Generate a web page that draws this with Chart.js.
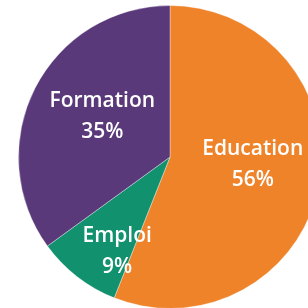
<!DOCTYPE html>
<html>
<head>
<meta charset="utf-8">
<script src="https://cdn.jsdelivr.net/npm/chart.js@4"></script>
<style>
  html, body { margin:0; padding:0; background:#fff; overflow:hidden; width:308px; height:308px; }
  #wrap { position:absolute; left:0; top:0; }
</style>
</head>
<body>
<div id="wrap"><canvas id="pieChart" width="322" height="309"></canvas></div>
<script>
// data
const categories = ['Education', 'Emploi', 'Formation'];
const shares = [56, 9, 35];
const sliceColors = ['#EF832A', '#12916F', '#5A397A'];

// label block placement, as fraction of radius from pie centre (style only)
const labelOffsets = [[0.546, 0.046], [-0.349, 0.618], [-0.447, -0.273]];

const sliceLabels = {
  id: 'sliceLabels',
  afterDatasetsDraw(chart){
    const ctx = chart.ctx;
    const meta = chart.getDatasetMeta(0);
    ctx.save();
    ctx.fillStyle = '#ffffff';
    ctx.textAlign = 'center';
    ctx.textBaseline = 'middle';
    ctx.font = '600 21px "Open Sans", Lato, sans-serif';
    meta.data.forEach((arc, i)=>{
      const r = arc.outerRadius;
      const x = arc.x + labelOffsets[i][0] * r;
      const y = arc.y + labelOffsets[i][1] * r;
      ctx.fillText(categories[i], x, y - 15);
      ctx.fillText(shares[i] + '%', x, y + 16);
    });
    ctx.restore();
  }
};

new Chart(document.getElementById('pieChart').getContext('2d'), {
  type: 'pie',
  data: {
    labels: categories,
    datasets: [{
      data: shares,
      backgroundColor: sliceColors,
      borderColor: 'rgba(255,255,255,0.35)',
      borderWidth: 1,
      hoverOffset: 0
    }]
  },
  options: {
    responsive: false,
    animation: false,
    layout: { padding: { left: 18, top: 5, right: 0, bottom: 0 } },
    plugins: { legend: { display: false }, tooltip: { enabled: false } }
  },
  plugins: [sliceLabels]
});
</script>
</body>
</html>
